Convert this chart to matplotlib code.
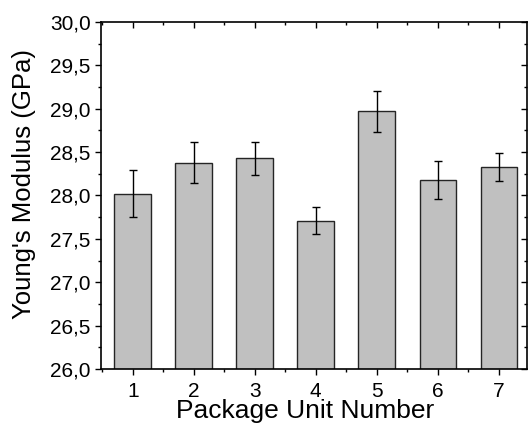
import matplotlib
matplotlib.use("Agg")
import matplotlib.pyplot as plt
from matplotlib.ticker import FuncFormatter, MultipleLocator

# Young's modulus per package unit
units = [1, 2, 3, 4, 5, 6, 7]
modulus = [28.02, 28.38, 28.43, 27.71, 28.97, 28.18, 28.33]
errors = [0.27, 0.24, 0.19, 0.155, 0.235, 0.22, 0.16]

plt.rcParams['font.family'] = ['Liberation Sans', 'DejaVu Sans']

fig = plt.figure(figsize=(5.29, 4.32), dpi=100)
ax = fig.add_axes([0.191, 0.146, 0.805, 0.803])

ax.bar(units, modulus, width=0.6, color='#c0c0c0', edgecolor='#252525',
       linewidth=1.0, zorder=2)
ax.errorbar(units, modulus, yerr=errors, fmt='none', ecolor='black',
            elinewidth=1.0, capsize=2.7, capthick=1.0, zorder=3)

ax.set_xlim(0.48, 7.46)
ax.set_ylim(26.0, 30.0)
ax.set_xticks(units)
ax.xaxis.set_minor_locator(MultipleLocator(0.5))
ax.yaxis.set_major_locator(MultipleLocator(0.5))
ax.yaxis.set_minor_locator(MultipleLocator(0.25))
ax.yaxis.set_major_formatter(FuncFormatter(lambda v, p: f"{v:.1f}".replace('.', ',')))

ax.tick_params(axis='both', which='major', labelsize=15, length=4.5, width=1.0, pad=3)
ax.tick_params(axis='x', which='major', pad=5)
ax.tick_params(axis='both', which='minor', length=2.5, width=1.0)
ax.tick_params(axis='x', which='both', top=True, direction='out')
ax.tick_params(axis='y', which='both', right=True, direction='out')

# top/right ticks point inward, bottom/left outward
for t in ax.xaxis.get_major_ticks() + ax.xaxis.get_minor_ticks():
    t.tick2line.set_marker(3)
for t in ax.yaxis.get_major_ticks() + ax.yaxis.get_minor_ticks():
    t.tick2line.set_marker(0)

for s in ax.spines.values():
    s.set_linewidth(1.2)

ax.set_xlabel('Package Unit Number', fontsize=19)
ax.set_ylabel("Young's Modulus (GPa)", fontsize=18.5)
ax.xaxis.set_label_coords(0.479, -0.088)
ax.yaxis.set_label_coords(-0.153, 0.533)

plt.savefig('out.png', dpi=100)
